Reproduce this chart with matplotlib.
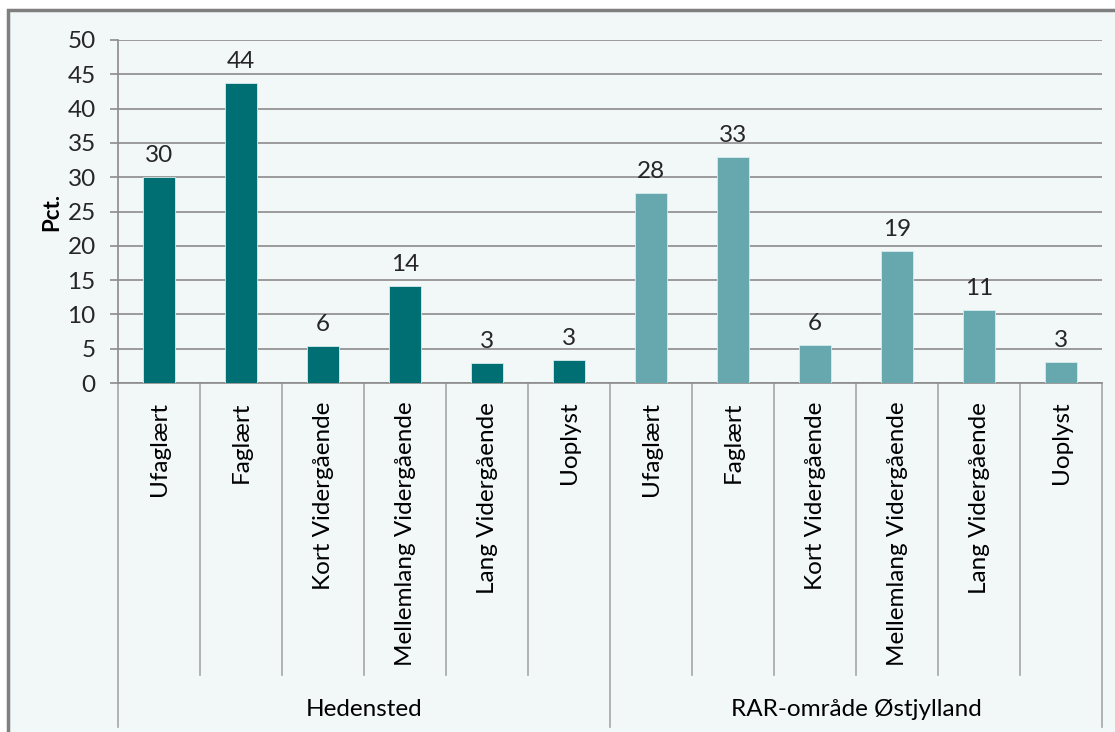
import matplotlib
matplotlib.use("Agg")
import matplotlib.pyplot as plt
import matplotlib.transforms as mtransforms
from matplotlib.patches import Rectangle

plt.rcParams['font.family'] = ['Lato', 'DejaVu Sans']

# data
kategorier = ["Ufaglært", "Faglært", "Kort Vidergående", "Mellemlang Vidergående",
              "Lang Vidergående", "Uoplyst"]
grupper = ["Hedensted", "RAR-område Østjylland"]
hedensted = [30.0, 43.7, 5.4, 14.1, 2.9, 3.35]
rar_oest = [27.7, 33.0, 5.5, 19.2, 10.6, 3.1]
etiketter_hed = ["30", "44", "6", "14", "3", "3"]
etiketter_rar = ["28", "33", "6", "19", "11", "3"]
yticks = [0, 5, 10, 15, 20, 25, 30, 35, 40, 45, 50]

bg = "#F2F7F8"
mork = "#006F74"
lys = "#66A8AE"
gitter = "#8C8C8C"
fs = 17.5

fig = plt.figure(figsize=(11.15, 7.32), dpi=100, facecolor="white")
W, H = 1115, 732
# ramme
fig.patches.append(Rectangle((8 / W, -0.01), 1.0, 1 - 10 / H + 0.01, transform=fig.transFigure,
                             facecolor=bg, edgecolor="#7F7F7F", linewidth=2.5, zorder=-10))

ax = fig.add_axes([118 / W, 1 - 383 / H, (1102 - 118) / W, (383 - 40) / H])
ax.set_facecolor("none")

vaerdier = hedensted + rar_oest
etiketter = etiketter_hed + etiketter_rar
farver = [mork] * len(hedensted) + [lys] * len(rar_oest)
x = [i + 0.5 for i in range(len(vaerdier))]

ax.bar(x, vaerdier, width=0.39, color=farver, edgecolor="#D8ECEE", linewidth=0.6, zorder=3)
for xi, v, t in zip(x, vaerdier, etiketter):
    ax.annotate(t, (xi, v), xytext=(0, 8), textcoords="offset points",
                ha="center", va="bottom", fontsize=fs, color="#262626")

ax.set_xlim(0, len(vaerdier))
ax.set_ylim(0, 50)
ax.set_yticks(yticks)
ax.set_yticklabels([str(t) for t in yticks], fontsize=fs, color="#262626")
ax.tick_params(axis="y", length=6, width=1.2, color=gitter, pad=10)
ax.set_xticks([])
ax.yaxis.grid(True, color=gitter, linewidth=1.2, zorder=0)
ax.set_axisbelow(True)
for s in ["top", "right"]:
    ax.spines[s].set_visible(False)
ax.spines["left"].set_color(gitter)
ax.spines["left"].set_linewidth(1.2)
ax.spines["bottom"].set_color(gitter)
ax.spines["bottom"].set_linewidth(1.2)

ax.set_ylabel("Pct.", fontsize=fs - 1.5, fontweight="bold", color="black", labelpad=4)

trans = mtransforms.blended_transform_factory(ax.transData, ax.transAxes)
n = len(kategorier)
# kategorietiketter og skillelinjer
for i in range(len(vaerdier)):
    ax.text(i + 0.5, -0.055, kategorier[i % n], rotation=90, ha="center", va="top",
            fontsize=fs, color="black", transform=trans)
for i in range(len(vaerdier) + 1):
    bund = -1.003 if i % n == 0 else -0.851
    ax.plot([i, i], [0, bund], color="#A6A6A6", linewidth=1.2, transform=trans, clip_on=False)
for g, navn in enumerate(grupper):
    ax.text(g * n + n / 2, -0.953, navn, ha="center", va="center", fontsize=fs,
            color="black", transform=trans)

fig.savefig("out.png", dpi=100, facecolor="white")
